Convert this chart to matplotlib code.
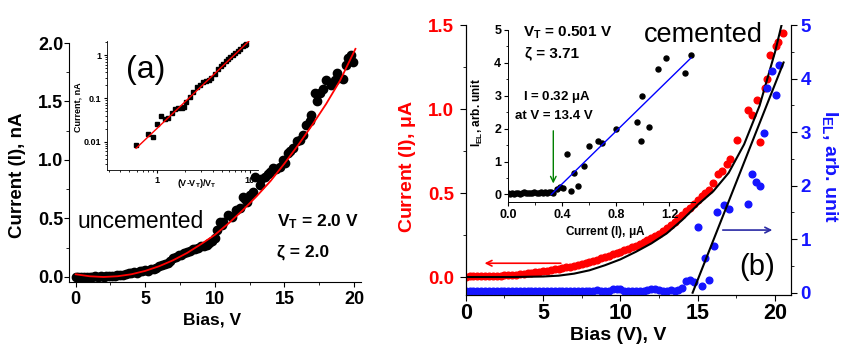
import numpy as np
import matplotlib
matplotlib.use("Agg")
import matplotlib.pyplot as plt
from matplotlib.ticker import MultipleLocator, LogLocator, NullFormatter, FixedLocator

plt.rcParams['font.family'] = ['Liberation Sans', 'DejaVu Sans']
plt.rcParams['font.weight'] = 'bold'
plt.rcParams['mathtext.fontset'] = 'custom'
plt.rcParams['mathtext.rm'] = 'Liberation Sans:bold'
plt.rcParams['mathtext.bf'] = 'Liberation Sans:bold'
plt.rcParams['mathtext.it'] = 'Liberation Sans:bold'

# ---- panel (a): uncemented, main I-V ----
a_bias = [0.0, 0.2, 0.4, 0.6, 0.8, 1.0, 1.2, 1.4, 1.6, 1.8, 2.0, 2.2, 2.4, 2.6, 2.8,
          3.0, 3.2, 3.4, 3.6, 3.8, 4.0, 4.2, 4.4, 4.6, 4.8, 5.0, 5.2, 5.4, 5.6, 5.8,
          6.0, 6.2, 6.4, 6.6, 6.8, 7.0, 7.2, 7.4, 7.6, 7.8, 8.0, 8.2, 8.4, 8.6, 8.8,
          9.0, 9.2, 9.4, 9.6, 9.8, 10.0,
          10.12, 10.36, 10.48, 10.6, 10.95, 11.2, 11.5, 11.8, 12.03, 12.15, 12.3, 12.51,
          12.75, 12.87, 13.23, 13.35, 13.59, 13.8, 13.95, 14.19, 14.4, 14.67, 14.9, 15.03,
          15.26, 15.4, 15.62, 15.87, 16.1, 16.34, 16.58, 16.8, 16.94, 17.18, 17.35, 17.54,
          17.78, 18.02, 18.38, 18.6, 18.74, 19.21, 19.45, 19.57, 19.81, 19.93]
a_current = [-0.004, 0.0, -0.002, 0.003, 0.001, 0.004, 0.002, 0.005, 0.003, 0.006, 0.004,
             0.008, 0.006, 0.011, 0.009, 0.014, 0.017, 0.02, 0.024, 0.03, 0.033, 0.04,
             0.036, 0.048, 0.05, 0.058, 0.055, 0.066, 0.072, 0.08, 0.094, 0.1, 0.108, 0.12,
             0.135, 0.158, 0.17, 0.184, 0.19, 0.205, 0.215, 0.222, 0.238, 0.243, 0.25,
             0.262, 0.268, 0.275, 0.29, 0.305, 0.33,
             0.40, 0.47, 0.444, 0.473, 0.53, 0.515, 0.57, 0.587, 0.686, 0.67, 0.64, 0.70,
             0.73, 0.857, 0.786, 0.84, 0.857, 0.88, 0.90, 0.93, 0.92, 0.94, 1.0, 0.97,
             1.06, 1.08, 1.10, 1.16, 1.17, 1.21, 1.30, 1.33, 1.385, 1.57, 1.50, 1.57,
             1.61, 1.68, 1.64, 1.68, 1.74, 1.69, 1.81, 1.87, 1.897, 1.84]
a_fit_bias = [0, 1, 2, 3, 4, 5, 6, 7, 8, 9, 10, 11, 12, 13, 14, 15, 16, 17, 18, 19, 20.1]
a_fit_current = [0.023, 0.006, 0.0, 0.006, 0.023, 0.052, 0.092, 0.143, 0.205, 0.28, 0.36,
                 0.46, 0.57, 0.69, 0.82, 0.97, 1.13, 1.3, 1.48, 1.68, 1.95]

# inset (a): log-log
ai_x = [0.59, 0.79, 0.89, 1.0, 1.09, 1.21, 1.31, 1.43, 1.55, 1.69, 1.83, 1.95, 2.07, 2.25,
        2.45, 2.66, 2.89, 3.14, 3.41, 3.65, 3.86, 4.19, 4.54, 4.85, 5.15, 5.5, 5.83, 6.2,
        6.6, 7.0, 7.47, 7.95, 8.45, 8.8, 9.2]
ai_y = [0.0083, 0.015, 0.013, 0.0255, 0.039, 0.033, 0.036, 0.045, 0.056, 0.059, 0.059,
        0.062, 0.083, 0.109, 0.142, 0.185, 0.203, 0.242, 0.255, 0.27, 0.29, 0.377, 0.49,
        0.55, 0.64, 0.74, 0.84, 0.92, 1.0, 1.12, 1.26, 1.42, 1.61, 1.72, 1.86]
ai_fit_x = [0.59, 9.84]
ai_fit_y = [0.007, 2.14]

# ---- panel (b): cemented ----
b_bias = [0.0, 0.25, 0.5, 0.75, 1.0, 1.25, 1.5, 1.75, 2.0, 2.25, 2.5, 2.75, 3.0, 3.25, 3.5,
          3.75, 4.0, 4.25, 4.5, 4.75, 5.0, 5.25, 5.5, 5.75, 6.0, 6.25, 6.5, 6.75, 7.0, 7.25,
          7.5, 7.75, 8.0, 8.25, 8.5, 8.75, 9.0, 9.25, 9.5, 9.75, 10.0, 10.25, 10.5, 10.75,
          11.0, 11.25, 11.5, 11.75, 12.0, 12.25, 12.5, 12.75, 13.0, 13.25, 13.5, 13.75,
          14.0, 14.25, 14.5, 14.75, 15.0, 15.25, 15.5, 15.75,
          16.0, 16.33, 16.55, 16.87, 17.06, 17.52, 18.23, 18.49, 18.8, 19.02, 19.35, 19.5,
          19.7, 20.03, 20.2, 20.53]
b_current = [0.003, 0.004, 0.004, 0.005, 0.005, 0.006, 0.006, 0.007, 0.008, 0.009, 0.01,
             0.011, 0.013, 0.015, 0.017, 0.019, 0.022, 0.025, 0.028, 0.031, 0.035, 0.038,
             0.042, 0.046, 0.05, 0.054, 0.058, 0.062, 0.068, 0.073, 0.078, 0.084, 0.09,
             0.097, 0.104, 0.112, 0.12, 0.128, 0.135, 0.142, 0.15, 0.158, 0.167, 0.177,
             0.187, 0.197, 0.207, 0.218, 0.23, 0.243, 0.257, 0.272, 0.29, 0.31, 0.33, 0.35,
             0.37, 0.39, 0.41, 0.435, 0.46, 0.48, 0.5, 0.52,
             0.558, 0.612, 0.632, 0.674, 0.703, 0.815, 0.996, 0.964, 1.054, 0.805, 1.127,
             1.18, 1.32, 1.377, 1.40, 1.45]
b_fit_bias = [0, 3, 5, 6, 7, 8, 9, 10, 11, 12, 13, 14, 15, 16, 17, 18, 19, 20, 20.5]
b_fit_current = [0.0, 0.0, 0.003, 0.008, 0.02, 0.04, 0.07, 0.105, 0.15, 0.2, 0.26, 0.34,
                 0.43, 0.51, 0.62, 0.79, 1.02, 1.34, 1.53]

el_bias = [0.0, 0.25, 0.5, 0.75, 1.0, 1.25, 1.5, 1.75, 2.0, 2.25, 2.5, 2.75, 3.0, 3.25,
           3.5, 3.75, 4.0, 4.25, 4.5, 4.75, 5.0, 5.25, 5.5, 5.75, 6.0, 6.25, 6.5, 6.75, 7.0,
           7.25, 7.5, 7.75, 8.0, 8.25, 8.5, 8.75, 9.0, 9.25, 9.5, 9.75, 10.0, 10.25, 10.5,
           10.75, 11.0, 11.25, 11.5, 11.75, 12.0, 12.25, 12.5, 12.75, 13.0, 13.25, 13.5,
           13.75,
           13.96, 14.24, 14.5, 14.76, 15.04, 15.25, 15.47, 15.75, 16.05, 16.25, 16.7, 17.02,
           18.23, 18.5, 18.77, 19.0, 19.27, 19.5, 19.78, 20.04, 20.27]
el_signal = [0.03, 0.04, 0.03, 0.035, 0.03, 0.04, 0.03, 0.035, 0.04, 0.03, 0.035, 0.03,
             0.04, 0.035, 0.03, 0.04, 0.035, 0.03, 0.04, 0.035, 0.03, 0.04, 0.035, 0.03,
             0.04, 0.035, 0.03, 0.04, 0.035, 0.04, 0.03, 0.04, 0.035, 0.04, 0.05, 0.04,
             0.035, 0.04, 0.06, 0.07, 0.06, 0.04, 0.035, 0.04, 0.035, 0.04, 0.04, 0.05,
             0.07, 0.065, 0.05, 0.04, 0.04, 0.045, 0.04, 0.05,
             0.08, 0.21, 0.24, 0.2, 1.23, 0.12, 0.65, 0.24, 0.87, 1.5, 1.63, 1.56,
             1.65, 2.22, 2.07, 2.0, 2.99, 3.82, 4.15, 3.7, 4.25]
el_fit_bias = [14.67, 20.55]
el_fit_signal = [0.0, 4.3]

# inset (b): EL vs current
bi_current = [0.0, 0.015, 0.03, 0.045, 0.06, 0.075, 0.09, 0.105, 0.12, 0.135, 0.15, 0.165,
              0.18, 0.195, 0.21, 0.225, 0.24, 0.255, 0.27, 0.285, 0.3, 0.315, 0.33,
              0.36, 0.385, 0.41, 0.435, 0.465, 0.49, 0.517, 0.56, 0.604, 0.666, 0.696,
              0.80, 0.96, 0.994, 0.99, 1.048, 1.118, 1.175, 1.314, 1.359]
bi_el = [0.03, 0.01, 0.04, 0.02, 0.03, 0.05, 0.02, 0.04, 0.06, 0.03, 0.04, 0.05, 0.03,
         0.06, 0.05, 0.04, 0.06, 0.05, 0.07, 0.05, 0.06, 0.07, 0.05,
         0.18, 0.22, 0.2, 1.22, 0.1, 0.64, 0.25, 0.86, 1.48, 1.62, 1.55,
         1.98, 2.2, 2.98, 1.63, 2.05, 3.8, 4.14, 3.69, 4.23]
bi_fit_current = [0.32, 1.36]
bi_fit_el = [0.0, 4.15]

W, H = 843, 347


def rect(l, t, r, b):
    return [l / W, 1 - b / H, (r - l) / W, (b - t) / H]


def fx(x):
    return x / W


def fy(y):
    return 1 - y / H


fig = plt.figure(figsize=(W / 100, H / 100), dpi=100)

# ---------------- panel (a) ----------------
ax = fig.add_axes(rect(69, 43, 361, 282))
ax.plot(a_bias, a_current, 'o', color='black', ms=6, mec='black', zorder=2)
ax.plot(a_fit_bias, a_fit_current, '-', color='red', lw=1.3, zorder=3)
ax.set_xlim(-0.48, 20.5)
ax.set_ylim(-0.043, 2.0)
ax.spines['top'].set_visible(False)
ax.spines['right'].set_visible(False)
ax.xaxis.set_major_locator(MultipleLocator(5))
ax.xaxis.set_minor_locator(MultipleLocator(2.5))
ax.yaxis.set_major_locator(MultipleLocator(0.5))
ax.yaxis.set_minor_locator(MultipleLocator(0.25))
ax.yaxis.set_major_formatter(plt.FormatStrFormatter('%.1f'))
ax.tick_params(which='major', direction='out', length=3.5, labelsize=13)
ax.tick_params(which='minor', direction='out', length=2)
ax.tick_params(axis='y', pad=0.5)
ax.tick_params(axis='x', pad=3)
fig.text(fx(18), fy(175), 'Current (I), nA', rotation=90, ha='center', va='center', fontsize=13.5)
fig.text(fx(212), fy(320), 'Bias, V', ha='center', va='center', fontsize=12.5)
ax.text(0.1, 0.47, 'uncemented', fontsize=16.5, fontweight='normal', va='center', ha='left')
ax.text(14.5, 0.47, r'V$_{T}$ = 2.0 V', fontsize=12.5, va='center', ha='left')
ax.text(14.5, 0.214, 'ζ = 2.0', fontsize=12.5, va='center', ha='left')
fig.text(fx(146), fy(70), '(a)', fontsize=23, fontweight='normal', ha='center', va='center')

# inset (a)
axi = fig.add_axes(rect(107, 41, 258, 170))
axi.patch.set_alpha(0)
axi.set_xscale('log')
axi.set_yscale('log')
axi.plot(ai_x, ai_y, 's', color='black', ms=2.2, zorder=2)
axi.plot(ai_fit_x, ai_fit_y, '-', color='red', lw=1.0, zorder=3)
axi.set_xlim(0.286, 12.3)
axi.set_ylim(0.0022, 2.14)
axi.spines['top'].set_visible(False)
axi.spines['right'].set_visible(False)
axi.xaxis.set_major_locator(FixedLocator([1, 10]))
axi.yaxis.set_major_locator(FixedLocator([0.01, 0.1, 1]))
axi.xaxis.set_minor_locator(LogLocator(subs=np.arange(2, 10)))
axi.yaxis.set_minor_locator(LogLocator(subs=np.arange(2, 10)))
axi.xaxis.set_minor_formatter(NullFormatter())
axi.yaxis.set_minor_formatter(NullFormatter())
axi.set_xticklabels(['1', '10'])
axi.set_yticklabels(['0.01', '0.1', '1'])
axi.tick_params(which='major', direction='out', length=2.5, labelsize=6.5, pad=1.5)
axi.tick_params(which='minor', direction='out', length=1.5)
for s in axi.spines.values():
    s.set_linewidth(0.6)
fig.text(fx(78), fy(107), 'Current, nA', rotation=90, ha='center', va='center', fontsize=6.5)
fig.text(fx(197), fy(184), r'(V-V$_{T}$)/V$_{T}$', ha='center', va='center', fontsize=6.5)

# ---------------- panel (b) ----------------
bx = fig.add_axes(rect(465.7, 25, 791, 295))
bx.plot(b_bias, b_current, 'o', color='red', ms=4.8, mec='red', zorder=2)
bx.plot(b_fit_bias, b_fit_current, '-', color='black', lw=1.5, zorder=3)
bx.set_xlim(0, 21.03)
bx.set_ylim(-0.107, 1.5)
bx.spines['top'].set_visible(False)
bx.xaxis.set_major_locator(MultipleLocator(5))
bx.xaxis.set_minor_locator(MultipleLocator(2.5))
bx.yaxis.set_major_locator(MultipleLocator(0.5))
bx.yaxis.set_minor_locator(MultipleLocator(0.25))
bx.yaxis.set_major_formatter(plt.FormatStrFormatter('%.1f'))
bx.tick_params(which='major', direction='out', length=4)
bx.tick_params(which='minor', direction='out', length=2.2)
bx.tick_params(axis='x', labelsize=15.5, pad=2)
bx.tick_params(axis='y', labelsize=13.5, labelcolor='red', pad=4.5)
bx.annotate('', xy=(1.04, 0.082), xytext=(6.33, 0.082),
            arrowprops=dict(arrowstyle='->', color='red', lw=1.2), zorder=4)

bx2 = bx.twinx()
bx2.plot(el_bias, el_signal, 'o', color='#1515ff', ms=4.8, mec='#1515ff', zorder=2)
bx2.plot(el_fit_bias, el_fit_signal, '-', color='black', lw=1.5, zorder=3)
bx2.set_ylim(-0.043, 5.0)
bx2.spines['top'].set_visible(False)
bx2.yaxis.set_major_locator(MultipleLocator(1))
bx2.yaxis.set_minor_locator(MultipleLocator(0.5))
bx2.tick_params(which='major', direction='out', length=4, labelsize=13.5,
                labelcolor='#1515ff', pad=3)
bx2.tick_params(which='minor', direction='out', length=2.2)
bx2.annotate('', xy=(20.0, 1.17), xytext=(16.44, 1.17),
             arrowprops=dict(arrowstyle='->', color='#2a2aa5', lw=1.2))

fig.text(fx(407), fy(167), r'Current (I), $\mu$A', rotation=90, ha='center', va='center',
         fontsize=14, color='red')
fig.text(fx(830), fy(167), r'I$_{EL}$, arb. unit', rotation=270, ha='center', va='center',
         fontsize=14, color='#1515ff')
fig.text(fx(618), fy(336), 'Bias (V), V', ha='center', va='center', fontsize=14)
fig.text(fx(644), fy(35), 'cemented', fontsize=19.5, fontweight='normal', ha='left', va='center')
fig.text(fx(757), fy(267), '(b)', fontsize=21, fontweight='normal', ha='center', va='center')

# inset (b)
bxi = fig.add_axes(rect(508.3, 30, 695, 201.7))
bxi.patch.set_alpha(0)
bxi.plot(bi_current, bi_el, 'o', color='black', ms=3.6, zorder=2)
bxi.plot(bi_fit_current, bi_fit_el, '-', color='blue', lw=1.0, zorder=3)
bxi.set_xlim(0, 1.39)
bxi.set_ylim(-0.22, 5.0)
bxi.spines['top'].set_visible(False)
bxi.spines['right'].set_visible(False)
bxi.xaxis.set_major_locator(MultipleLocator(0.4))
bxi.xaxis.set_minor_locator(MultipleLocator(0.2))
bxi.yaxis.set_major_locator(MultipleLocator(1))
bxi.yaxis.set_minor_locator(MultipleLocator(0.5))
bxi.xaxis.set_major_formatter(plt.FormatStrFormatter('%.1f'))
bxi.tick_params(which='major', direction='out', length=3, labelsize=9, pad=2)
bxi.tick_params(which='minor', direction='out', length=1.8)
for s in bxi.spines.values():
    s.set_linewidth(0.7)
bxi.text(0.11, 4.93, r'V$_{T}$ = 0.501 V', fontsize=11, ha='left', va='center')
bxi.text(0.124, 4.29, 'ζ = 3.71', fontsize=11, ha='left', va='center')
bxi.text(0.363, 2.95, r'I = 0.32 $\mu$A', fontsize=9.5, ha='center', va='center')
bxi.text(0.34, 2.40, 'at V = 13.4 V', fontsize=9.5, ha='center', va='center')
bxi.annotate('', xy=(0.335, 0.25), xytext=(0.335, 2.02),
             arrowprops=dict(arrowstyle='->', color='green', lw=1.0))
fig.text(fx(477), fy(113), r'I$_{EL}$, arb. unit', rotation=90, ha='center', va='center',
         fontsize=8.5)
fig.text(fx(605), fy(232), r'Current (I), $\mu$A', ha='center', va='center', fontsize=8.5)

fig.savefig('out.png', dpi=100)
